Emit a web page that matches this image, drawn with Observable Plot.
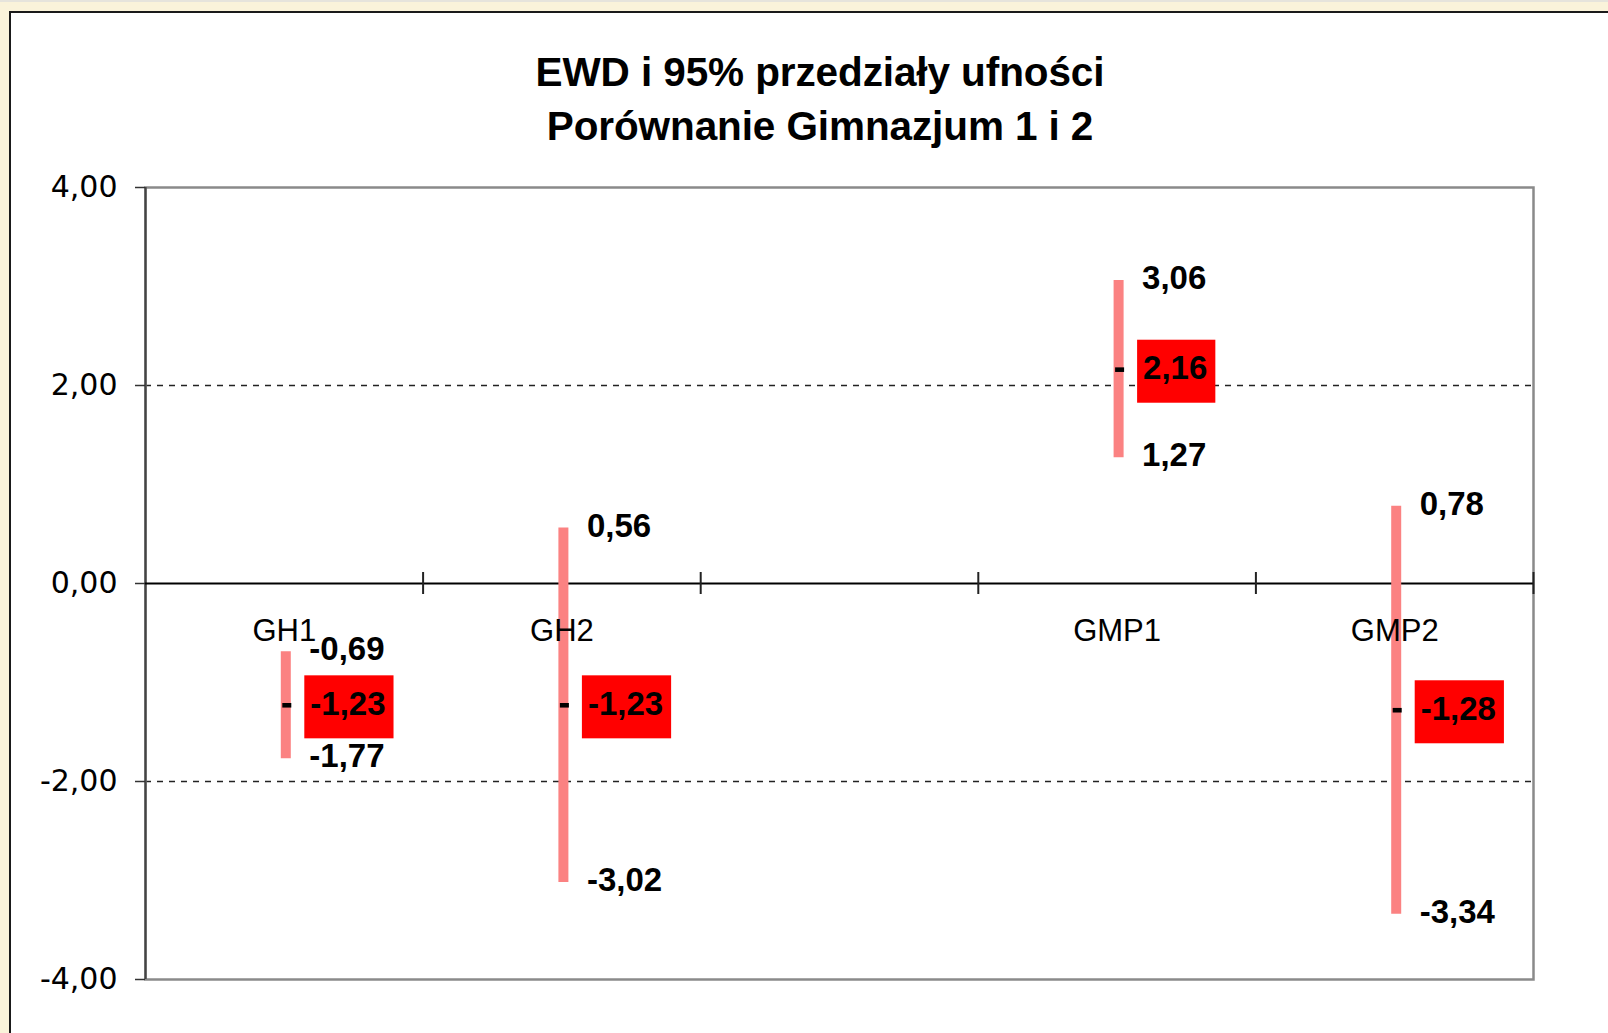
<!DOCTYPE html>
<html>
<head>
<meta charset="utf-8">
<script src="https://cdn.jsdelivr.net/npm/d3@7"></script>
<script src="https://cdn.jsdelivr.net/npm/@observablehq/plot@0.6"></script>
<style>
  html, body { margin: 0; padding: 0; overflow: hidden; }
  body { background: #faf3da; width: 1608px; height: 1033px; position: relative; }
  #topline { position: absolute; left: 0; top: 0; width: 1608px; height: 2px; background: #e6e4dc; }
  #sheet { position: absolute; left: 9px; top: 11px; width: 1700px; height: 1100px;
           background: #fff; border-left: 2px solid #1a1a1a; border-top: 2px solid #1a1a1a; }
  #title { width: 1618px; padding-top: 32px; height: 118px; text-align: center;
           font-family: "Liberation Sans", Arial, sans-serif; font-weight: bold;
           font-size: 40.5px; line-height: 54px; color: #000; letter-spacing: -0.1px; }
  #chart svg { display: block; }
</style>
</head>
<body>
<div id="topline"></div>
<div id="sheet">
  <div id="title">EWD i 95% przedziały ufności<br>Porównanie Gimnazjum 1 i 2</div>
  <div id="chart"></div>
</div>
<script>
const categories = ["GH1", "GH2", "", "GMP1", "GMP2"];
const ewd   = [-1.23, -1.23, null, 2.16, -1.28];
const lower = [-1.77, -3.02, null, 1.27, -3.34];
const upper = [-0.69, 0.56, null, 3.06, 0.78];
const yTicks = [-4, -2, 0, 2, 4];
const gridLines = [-2, 2];

const fmt = v => v.toFixed(2).replace(".", ",");

const rows = categories.map((c, i) => ({cat: c, x: i + 0.5, mean: ewd[i], lo: lower[i], hi: upper[i]}));
const data = rows.filter(d => d.mean != null);
const labels = rows.filter(d => d.cat !== "");
const boundaries = d3.range(1, categories.length + 1);

const dash = { draw(ctx) { ctx.rect(-4.5, -2.3, 9, 4.6); } };

const font = "Liberation Sans, Arial, sans-serif";

const chart = Plot.plot({
  width: 1597,
  height: 870,
  marginTop: 24,
  marginBottom: 54,
  marginLeft: 134,
  marginRight: 75,
  style: {background: "transparent", overflow: "visible"},
  x: {domain: [0, categories.length], axis: null},
  y: {domain: [-4, 4], axis: null},
  marks: [
    Plot.ruleY(gridLines, {stroke: "#222", strokeWidth: 1.3, strokeDasharray: "6,6"}),
    Plot.frame({stroke: "#8a8a8a", strokeWidth: 2.5}),
    Plot.ruleX([0], {stroke: "#444", strokeWidth: 2.2}),
    Plot.ruleY([0], {stroke: "#000", strokeWidth: 2}),
    Plot.ruleX(boundaries, {y1: 0, y2: 0, insetTop: -11, insetBottom: -11, stroke: "#222", strokeWidth: 2}),
    Plot.axisY(yTicks, {tickFormat: fmt, tickSize: 10, tickPadding: 18, fontSize: 30,
      fontFamily: "DejaVu Sans, Verdana, sans-serif", fill: "#000", stroke: "#333", strokeWidth: 1.5, label: null}),
    Plot.ruleX(data, {x: "x", y1: "lo", y2: "hi", stroke: "#fb8282", strokeWidth: 10, dx: 1.5}),
    Plot.dot(data, {x: "x", y: "mean", symbol: dash, r: 3, fill: "#000", stroke: "none", dx: 2.5}),
    Plot.text(data, {x: "x", y: "hi", text: d => fmt(d.hi), textAnchor: "start", dx: 25, dy: -2,
      fontSize: 33, fontWeight: "bold", fontFamily: font, fill: "#000"}),
    Plot.text(data, {x: "x", y: "lo", text: d => fmt(d.lo), textAnchor: "start", dx: 25, dy: -2,
      fontSize: 33, fontWeight: "bold", fontFamily: font, fill: "#000"}),
    Plot.text(data, {x: "x", y: "mean", text: d => fmt(d.mean), textAnchor: "start", dx: 26, dy: -1,
      fontSize: 33, fontWeight: "bold", fontFamily: font, fill: "#000", ariaDescription: "mean-label"}),
    Plot.text(labels, {x: "x", y: 0, text: "cat", dy: 48, fontSize: 31, fontFamily: font, fill: "#000"})
  ]
});
document.getElementById("chart").appendChild(chart);

// red label boxes behind the mean values
let meanG = chart.querySelector('g[aria-description="mean-label"]');
if (!meanG) {
  const tg = chart.querySelectorAll('g[aria-label="text"]');
  meanG = tg[2];
}
if (meanG) {
  const ns = "http://www.w3.org/2000/svg";
  const boxG = document.createElementNS(ns, "g");
  meanG.parentNode.insertBefore(boxG, meanG);
  meanG.querySelectorAll("text").forEach(t => {
    const b = t.getBBox();
    const ctm = t.getCTM(), gctm = boxG.getCTM();
    const m = gctm.inverse().multiply(ctm);
    const cx = b.x * m.a + m.e, cy = (b.y + b.height / 2) * m.d + m.f;
    const r = document.createElementNS(ns, "rect");
    r.setAttribute("x", cx - 6);
    r.setAttribute("y", cy - 28);
    r.setAttribute("width", b.width + 14);
    r.setAttribute("height", 63);
    r.setAttribute("fill", "#ff0000");
    boxG.appendChild(r);
  });
}
</script>
</body>
</html>
